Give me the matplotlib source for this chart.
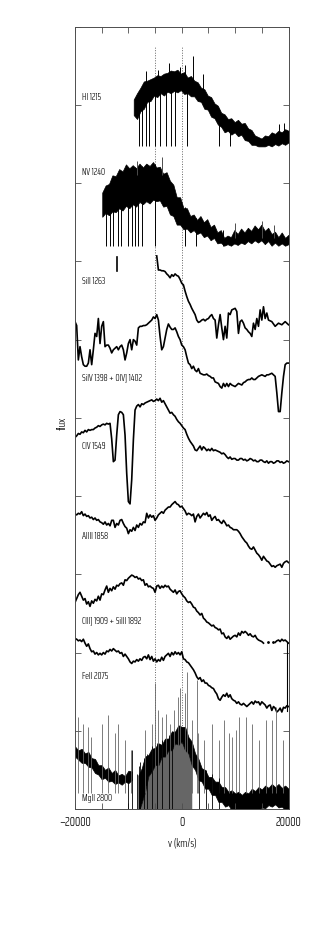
import numpy as np
import matplotlib
matplotlib.use('Agg')
import matplotlib.pyplot as plt
from matplotlib.ticker import MultipleLocator, FuncFormatter

plt.rcParams['font.family'] = ['Saira ExtraCondensed', 'DejaVu Sans']
plt.rcParams['font.weight'] = 300
plt.rcParams['axes.unicode_minus'] = True

# velocity grid (km/s) for the smooth spectra
v_grid = np.linspace(-20000, 20000, 129)

# stacked fluxes (offset so each line sits in its own band)
siii_f = [7.07, 6.89, 6.89, 6.88, 6.88, 6.87, 6.84, 6.82, 6.79, 6.83,
          6.81, 6.84, 6.82, 6.81, 6.77, 6.72, 6.70, 6.62, 6.55, 6.49,
          6.45, 6.40, 6.36, 6.32, 6.25, 6.22, 6.23, 6.25, 6.26, 6.24,
          6.26, 6.27, 6.30, 6.32, 6.27, 6.25, 6.02, 6.19, 6.32, 6.15,
          6.00, 6.17, 6.02, 6.34, 6.32, 6.38, 6.39, 6.40, 6.36, 6.08,
          6.23, 6.25, 6.21, 6.15, 6.13, 6.10, 6.08, 6.04, 6.21, 6.13,
          6.27, 6.17, 6.38, 6.25, 6.42, 6.27, 6.34, 6.25, 6.24, 6.23,
          6.20, 6.17, 6.19, 6.21, 6.20, 6.19, 6.21, 6.23, 6.21, 6.19]
siii_frag_v = [-12050, -12050]
siii_frag_f = [7.06, 6.88]

siiv_f = [6.23, 6.18, 5.74, 5.91, 5.78, 5.68, 5.66, 5.66, 5.70, 5.87,
          5.68, 5.87, 6.08, 6.04, 6.27, 5.95, 6.17, 6.23, 5.91, 5.93,
          5.93, 5.89, 5.83, 5.87, 5.89, 5.91, 5.87, 5.91, 5.93, 5.87,
          5.74, 5.83, 5.95, 6.00, 5.87, 6.00, 5.98, 5.93, 6.15, 6.17,
          6.17, 6.18, 6.18, 6.19, 6.21, 6.23, 6.25, 6.29, 6.27, 6.32,
          6.25, 6.04, 5.87, 5.91, 6.02, 6.13, 6.20, 6.16, 6.13, 6.13,
          6.15, 6.10, 6.04, 6.00, 5.93, 5.91, 5.87, 5.78, 5.70, 5.68,
          5.63, 5.66, 5.61, 5.59, 5.63, 5.57, 5.56, 5.55, 5.55, 5.56,
          5.54, 5.53, 5.51, 5.51, 5.46, 5.45, 5.44, 5.40, 5.38, 5.44,
          5.40, 5.44, 5.40, 5.44, 5.42, 5.41, 5.40, 5.42, 5.44, 5.43,
          5.42, 5.45, 5.46, 5.48, 5.49, 5.49, 5.51, 5.49, 5.49, 5.51,
          5.53, 5.54, 5.55, 5.54, 5.53, 5.55, 5.55, 5.56, 5.57, 5.55,
          5.53, 5.32, 5.08, 5.08, 5.32, 5.53, 5.68, 5.70, 5.70]

civ_f = [4.75, 4.77, 4.80, 4.79, 4.82, 4.81, 4.84, 4.82, 4.85, 4.84,
         4.85, 4.85, 4.87, 4.88, 4.90, 4.89, 4.91, 4.92, 4.91, 4.93,
         4.92, 4.93, 4.73, 4.44, 4.46, 4.78, 5.04, 5.08, 5.07, 5.04,
         4.78, 4.29, 3.93, 3.90, 4.21, 4.72, 5.10, 5.15, 5.17, 5.14,
         5.18, 5.17, 5.19, 5.20, 5.21, 5.22, 5.23, 5.21, 5.22, 5.24,
         5.22, 5.25, 5.20, 5.22, 5.18, 5.14, 5.10, 5.06, 5.07, 5.04,
         5.02, 4.98, 4.95, 4.93, 4.90, 4.87, 4.85, 4.79, 4.74, 4.70,
         4.67, 4.64, 4.59, 4.58, 4.61, 4.64, 4.59, 4.63, 4.61, 4.58,
         4.60, 4.58, 4.61, 4.58, 4.59, 4.58, 4.57, 4.56, 4.54, 4.55,
         4.53, 4.50, 4.48, 4.50, 4.47, 4.48, 4.48, 4.46, 4.46, 4.48,
         4.48, 4.46, 4.47, 4.45, 4.46, 4.48, 4.47, 4.45, 4.46, 4.44,
         4.44, 4.46, 4.46, 4.44, 4.43, 4.45, 4.42, 4.44, 4.44, 4.42,
         4.43, 4.45, 4.45, 4.43, 4.44, 4.42, 4.43, 4.45, 4.44]

aliii_f = [3.77, 3.76, 3.78, 3.77, 3.80, 3.75, 3.77, 3.74, 3.75, 3.72,
           3.73, 3.70, 3.72, 3.69, 3.70, 3.67, 3.66, 3.64, 3.67, 3.63,
           3.65, 3.62, 3.69, 3.69, 3.60, 3.65, 3.63, 3.69, 3.70, 3.65,
           3.61, 3.59, 3.52, 3.57, 3.55, 3.60, 3.56, 3.63, 3.60, 3.65,
           3.63, 3.67, 3.66, 3.78, 3.72, 3.76, 3.73, 3.75, 3.69, 3.72,
           3.76, 3.78, 3.80, 3.78, 3.82, 3.84, 3.86, 3.86, 3.89, 3.91,
           3.93, 3.90, 3.89, 3.86, 3.87, 3.84, 3.81, 3.76, 3.78, 3.77,
           3.75, 3.77, 3.67, 3.74, 3.77, 3.72, 3.75, 3.78, 3.76, 3.79,
           3.74, 3.76, 3.69, 3.72, 3.74, 3.69, 3.70, 3.67, 3.65, 3.69,
           3.66, 3.62, 3.63, 3.60, 3.59, 3.57, 3.57, 3.57, 3.55, 3.52,
           3.48, 3.45, 3.42, 3.40, 3.36, 3.33, 3.32, 3.35, 3.31, 3.27,
           3.25, 3.22, 3.18, 3.23, 3.20, 3.17, 3.16, 3.13, 3.10, 3.11,
           3.09, 3.11, 3.12, 3.13, 3.09, 3.14, 3.16, 3.17, 3.15]

nan = np.nan
ciii_f = [2.64, 2.69, 2.74, 2.77, 2.72, 2.67, 2.69, 2.62, 2.65, 2.59,
          2.66, 2.63, 2.68, 2.66, 2.72, 2.67, 2.75, 2.74, 2.80, 2.85,
          2.77, 2.82, 2.79, 2.84, 2.81, 2.86, 2.85, 2.88, 2.89, 2.86,
          2.93, 2.92, 2.95, 2.97, 2.99, 2.98, 2.96, 2.97, 2.94, 2.95,
          2.92, 2.93, 2.86, 2.88, 2.84, 2.85, 2.83, 2.82, 2.77, 2.85,
          2.86, 2.82, 2.85, 2.83, 2.86, 2.84, 2.85, 2.81, 2.79, 2.77,
          2.80, 2.75, 2.78, 2.79, 2.75, 2.72, 2.70, 2.66, 2.64, 2.65,
          2.62, 2.58, 2.57, 2.53, 2.51, 2.48, 2.50, 2.44, 2.42, 2.39,
          2.38, 2.36, 2.34, 2.35, 2.32, 2.31, 2.29, 2.30, 2.24, 2.25,
          2.20, 2.18, 2.21, 2.17, 2.19, 2.21, 2.22, 2.20, 2.25, 2.22,
          2.27, 2.25, 2.27, 2.25, 2.22, 2.24, 2.21, 2.20, 2.22, 2.18,
          2.16, 2.15, 2.14, 2.12, nan, nan, nan, nan, nan, nan,
          2.13, 2.15, 2.16, 2.14, 2.17, 2.15, 2.16, 2.14, 2.12]
ciii_dot_v = [16190, 17130]
ciii_dot_f = [2.13, 2.14]
ciii_edge_v = [19750, 19750]
ciii_edge_f = [2.12, 1.25]

feii_f = [2.18, 2.17, 2.15, 2.16, 2.14, 2.17, 2.12, 2.08, 2.11, 2.05,
          2.01, 2.02, 1.98, 2.00, 1.97, 1.99, 1.97, 2.00, 1.98, 2.02,
          2.01, 2.04, 2.02, 2.05, 2.03, 2.01, 2.02, 1.99, 2.00, 1.95,
          1.98, 1.95, 1.92, 1.88, 1.86, 1.89, 1.88, 1.91, 1.89, 1.92,
          1.90, 1.94, 1.95, 1.92, 1.97, 1.91, 1.95, 1.89, 1.92, 1.88,
          1.91, 1.89, 1.94, 1.90, 1.95, 1.97, 1.99, 1.95, 2.00, 1.97,
          2.01, 1.98, 2.00, 1.97, 2.01, 1.92, 1.91, 1.88, 1.87, 1.84,
          1.81, 1.78, 1.74, 1.69, 1.66, 1.68, 1.63, 1.65, 1.61, 1.61,
          1.58, 1.57, 1.55, 1.54, 1.50, 1.47, 1.41, 1.39, 1.43, 1.46,
          1.44, 1.48, 1.43, 1.46, 1.41, 1.39, 1.38, 1.35, 1.37, 1.34,
          1.33, 1.35, 1.33, 1.31, 1.33, 1.35, 1.37, 1.34, 1.38, 1.36,
          1.37, 1.33, 1.37, 1.35, 1.33, 1.29, 1.32, 1.33, 1.26, 1.31,
          1.29, 1.24, 1.26, 1.29, 1.24, 1.30, 1.29, 1.32, 1.31]

# noisy spectra: upper / lower edge of the band plus narrow spikes
hi_v = np.linspace(-9000, 20000, 47)
hi_top = [9.07, 9.15, 9.22, 9.30, 9.31, 9.33, 9.35, 9.38, 9.37, 9.40,
          9.41, 9.44, 9.43, 9.45, 9.40, 9.42, 9.35, 9.37, 9.31, 9.29,
          9.22, 9.20, 9.12, 9.10, 9.02, 8.99, 8.90, 8.88, 8.82, 8.83,
          8.78, 8.81, 8.76, 8.77, 8.70, 8.68, 8.61, 8.59, 8.57, 8.61,
          8.60, 8.65, 8.63, 8.67, 8.65, 8.69, 8.67]
hi_bot = [8.87, 8.82, 8.92, 8.95, 9.04, 9.05, 9.12, 9.10, 9.15, 9.12,
          9.17, 9.15, 9.18, 9.16, 9.19, 9.14, 9.15, 9.11, 9.11, 9.05,
          9.04, 8.95, 8.94, 8.85, 8.83, 8.75, 8.72, 8.65, 8.67, 8.62,
          8.65, 8.60, 8.62, 8.55, 8.54, 8.49, 8.49, 8.47, 8.47, 8.47,
          8.49, 8.47, 8.50, 8.48, 8.51, 8.49, 8.52]
hi_floor = 8.47
hi_abs_v = [-8040, -7540, -6720, -6090, -5030, -4090, -2960, -2080, -1260, 1060, 6890, 8960]
hi_abs_top = [9.05, 9.15, 9.25, 9.28, 9.30, 9.35, 9.38, 9.40, 9.40, 9.35, 8.95, 8.80]
hi_em_v = [-6720, -4400, -2330, -320, 620, 2190, 4070, 18180, 19130]
hi_em_base = [9.10, 9.20, 9.20, 9.20, 9.20, 9.15, 9.00, 8.60, 8.60]
hi_em_top = [9.43, 9.45, 9.54, 9.49, 9.51, 9.62, 9.39, 8.75, 8.77]

nv_v = np.linspace(-14900, 20000, 56)
nv_top = [7.88, 7.97, 7.99, 8.10, 8.09, 8.18, 8.15, 8.24, 8.19, 8.23,
          8.19, 8.25, 8.20, 8.25, 8.22, 8.27, 8.20, 8.21, 8.12, 8.14,
          8.03, 7.98, 7.82, 7.82, 7.68, 7.68, 7.58, 7.60, 7.53, 7.58,
          7.50, 7.54, 7.44, 7.47, 7.37, 7.40, 7.30, 7.33, 7.31, 7.40,
          7.35, 7.42, 7.37, 7.43, 7.39, 7.46, 7.41, 7.47, 7.39, 7.43,
          7.35, 7.38, 7.31, 7.37, 7.30, 7.34]
nv_bot = [7.57, 7.62, 7.59, 7.64, 7.63, 7.68, 7.65, 7.71, 7.68, 7.73,
          7.70, 7.76, 7.73, 7.77, 7.74, 7.79, 7.77, 7.78, 7.70, 7.71,
          7.60, 7.58, 7.47, 7.47, 7.41, 7.42, 7.37, 7.40, 7.35, 7.37,
          7.31, 7.33, 7.27, 7.30, 7.23, 7.24, 7.20, 7.22, 7.20, 7.23,
          7.21, 7.24, 7.22, 7.26, 7.23, 7.27, 7.24, 7.27, 7.22, 7.26,
          7.20, 7.24, 7.20, 7.23, 7.20, 7.22]
nv_floor = 7.20
nv_abs_v = [-14120, -13490, -12870, -11930, -11290, -10050, -9410, -8790, -8170, -7530, -5030, 620, 2690, 7770]
nv_abs_top = [7.95, 8.00, 8.07, 8.12, 8.15, 8.20, 8.20, 8.21, 8.21, 8.22, 8.24, 7.70, 7.55, 7.40]
nv_em_v = [-8410, -3760, 10030, 15060, 17240]
nv_em_base = [8.10, 8.10, 7.30, 7.30, 7.30]
nv_em_top = [8.28, 8.34, 7.49, 7.51, 7.47]

mg_v = np.linspace(-20000, 20000, 65)
mg_top = [0.80, 0.75, 0.77, 0.71, 0.73, 0.65, 0.64, 0.56, 0.56, 0.50,
          0.53, 0.46, 0.50, 0.43, 0.45, 0.42, 0.49, 0.48, nan, 0.43,
          0.52, 0.67, 0.69, 0.77, 0.78, 0.84, 0.82, 0.90, 0.90, 0.99,
          0.99, 1.07, 1.05, 1.05, 0.92, 0.86, 0.71, 0.64, 0.52, 0.50,
          0.41, 0.41, 0.35, 0.35, 0.28, 0.28, 0.22, 0.24, 0.20, 0.22,
          0.18, 0.22, 0.20, 0.26, 0.23, 0.28, 0.25, 0.30, 0.27, 0.32,
          0.28, 0.32, 0.27, 0.30, 0.26]
mg_bot = [0.67, 0.63, 0.59, 0.59, 0.54, 0.53, 0.46, 0.44, 0.38, 0.40,
          0.35, 0.36, 0.32, 0.34, 0.31, 0.35, 0.33, 0.37, nan, -0.05,
          0.08, 0.22, 0.42, 0.48, 0.56, 0.56, 0.67, 0.67, 0.75, 0.75,
          0.84, 0.82, 0.86, 0.75, 0.71, 0.56, 0.50, 0.37, 0.35, 0.26,
          0.26, 0.18, 0.18, 0.09, 0.09, 0.03, 0.05, -0.02, -0.02, -0.05,
          -0.03, -0.05, -0.03, -0.05, -0.01, -0.02, 0.02, 0.01, 0.05, 0.03,
          0.06, 0.02, 0.03, -0.01, 0.00]
mg_em_v = [-19390, -18450, -17630, -17010, -15000, -13870, -12490, -11860, -10610, -9480,
           -6840, -5590, -4960, -4460, -3710, -2960, -2140, -1510, -700, -260,
           560, 1000, 1940, 2880, 3070, 4130, 5700, 6960, 7900, 8840,
           9470, 10090, 10720, 11970, 13230, 14480, 15740, 16990, 17620, 18880]
mg_em_top = [1.18, 1.09, 1.05, 0.92, 1.09, 1.20, 0.97, 1.09, 0.88, 0.75,
             1.01, 1.09, 1.61, 1.26, 1.18, 1.22, 1.09, 1.26, 1.43, 1.55,
             1.48, 1.75, 1.14, 1.65, 0.97, 0.88, 1.09, 0.88, 1.14, 0.97,
             0.92, 1.01, 1.18, 1.18, 1.09, 0.88, 1.14, 1.14, 1.31, 0.88]
mg_abs_v = [-9980, -9230, -8410, -8100, -7790, -7160, -6530, -5590, -4650, -3710,
            -2450, -1830, 3190, 4450, 5700, 6960]
mg_abs_top = [0.40, 0.75, 0.45, 0.55, 0.60, 0.65, 0.70, 0.80, 0.85, 0.88,
              0.95, 1.00, 0.60, 0.50, 0.45, 0.40]

line_names = ['HI 1215', 'NV 1240', 'SiII 1263', 'SiIV 1398 + OIV] 1402', 'CIV 1549',
              'AlIII 1858', 'CIII] 1909 + SiIII 1892', 'FeII 2075', 'MgII 2800']
name_y = [9.09, 8.14, 6.74, 5.51, 4.63, 3.48, 2.40, 1.69, 0.14]
marker_v = [-5000, 0]

fig = plt.figure(figsize=(3.27, 9.26), dpi=100)
ax = fig.add_axes([75 / 327, 1 - 809 / 926, 213.5 / 327, 782.3 / 926])

ax.vlines(marker_v, 0, 9.74, colors='0.4', linestyles=(0, (1, 1.6)), lw=0.7, zorder=1)

lw = 1.2
ax.plot(v_grid[-len(siii_f):], siii_f, color='k', lw=lw)
ax.plot(siii_frag_v, siii_frag_f, color='k', lw=lw)
ax.plot(v_grid, siiv_f, color='k', lw=lw)
ax.plot(v_grid, civ_f, color='k', lw=lw)
ax.plot(v_grid, aliii_f, color='k', lw=lw)
ax.plot(v_grid, ciii_f, color='k', lw=lw)
ax.plot(ciii_dot_v, ciii_dot_f, 'k.', ms=2)
ax.plot(ciii_edge_v, ciii_edge_f, color='k', lw=0.8)
ax.plot(v_grid, feii_f, color='k', lw=lw)

# HI
ax.fill_between(hi_v, hi_bot, hi_top, color='k', lw=0.5)
ax.vlines(hi_abs_v, hi_floor, hi_abs_top, colors='k', lw=0.7)
ax.vlines(hi_em_v, hi_em_base, hi_em_top, colors='k', lw=0.7)

# NV
ax.fill_between(nv_v, nv_bot, nv_top, color='k', lw=0.5)
ax.vlines(nv_abs_v, nv_floor, nv_abs_top, colors='k', lw=0.7)
ax.vlines(nv_em_v, nv_em_base, nv_em_top, colors='0.3', lw=0.7)

# MgII
mg_bot_arr = np.array(mg_bot)
ax.fill_between(mg_v[19:36], -0.1, mg_bot_arr[19:36], color='0.4', lw=0)
ax.fill_between(mg_v[:18], mg_bot[:18], mg_top[:18], color='k', lw=0.5)
ax.fill_between(mg_v[19:], mg_bot[19:], mg_top[19:], color='k', lw=0.5)
ax.vlines(mg_em_v, 0.2, mg_em_top, colors='0.4', lw=0.6)
ax.vlines(mg_abs_v, -0.1, mg_abs_top, colors='k', lw=0.6)

for name, y in zip(line_names, name_y):
    ax.text(-18700, y, name, fontsize=7.2, ha='left', va='center')

ax.set_xlim(-20000, 20000)
ax.set_ylim(0, 10)
ax.xaxis.set_major_locator(MultipleLocator(5000))
ax.xaxis.set_major_formatter(FuncFormatter(
    lambda x, p: ('%d' % x).replace('-', '\u2212') if abs(x) in (0, 20000) else ''))
ax.yaxis.set_major_locator(MultipleLocator(1))
ax.tick_params(direction='in', top=True, right=True, length=4, width=0.6,
               color='0.3', labelsize=9.5, pad=5)
ax.tick_params(axis='y', labelleft=False)
for s in ax.spines.values():
    s.set_linewidth(0.7)
    s.set_color('0.3')

fig.text(182 / 327, 1 - 843 / 926, 'v (km/s)', ha='center', va='center', fontsize=8.5)
fig.text(62 / 327, 1 - 423 / 926, 'flux', ha='center', va='center', fontsize=8.5, rotation=90)

fig.savefig('out.png', dpi=100)
